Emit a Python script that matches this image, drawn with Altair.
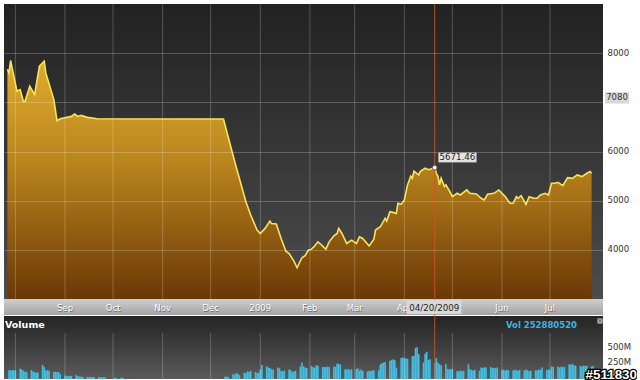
import altair as alt
import pandas as pd

# ---------------- data ----------------
price_dates = [
    "2008-07-27", "2008-07-28", "2008-07-29",
    "2008-08-02", "2008-08-04", "2008-08-06", "2008-08-07", "2008-08-10", "2008-08-13",
    "2008-08-16", "2008-08-19", "2008-08-20", "2008-08-25", "2008-08-27", "2008-08-29",
    "2008-09-05", "2008-09-07", "2008-09-09", "2008-09-11", "2008-09-15", "2008-09-21",
    "2008-12-09", "2008-12-16", "2008-12-23", "2008-12-26", "2008-12-30",
    "2009-01-01", "2009-01-04", "2009-01-07", "2009-01-08", "2009-01-11", "2009-01-14",
    "2009-01-17", "2009-01-19", "2009-01-22", "2009-01-24", "2009-01-27", "2009-01-29", "2009-01-31",
    "2009-02-02", "2009-02-04", "2009-02-06", "2009-02-08", "2009-02-10", "2009-02-11",
    "2009-02-13", "2009-02-16", "2009-02-18", "2009-02-19", "2009-02-21", "2009-02-24", "2009-02-27",
    "2009-03-02", "2009-03-04", "2009-03-06", "2009-03-10", "2009-03-13", "2009-03-14",
    "2009-03-17", "2009-03-20", "2009-03-21", "2009-03-23", "2009-03-25", "2009-03-27",
    "2009-03-28", "2009-03-30",
    "2009-04-01", "2009-04-03", "2009-04-05", "2009-04-06", "2009-04-07", "2009-04-10",
    "2009-04-11", "2009-04-14", "2009-04-16", "2009-04-20", "2009-04-21", "2009-04-22",
    "2009-04-23", "2009-04-24", "2009-04-26", "2009-04-27", "2009-04-30",
    "2009-05-01", "2009-05-04", "2009-05-06", "2009-05-10", "2009-05-12", "2009-05-16",
    "2009-05-19", "2009-05-21", "2009-05-23", "2009-05-27", "2009-05-30",
    "2009-06-01", "2009-06-03", "2009-06-06", "2009-06-08", "2009-06-10", "2009-06-11",
    "2009-06-13", "2009-06-16", "2009-06-18", "2009-06-21", "2009-06-23", "2009-06-25",
    "2009-06-28", "2009-06-30",
    "2009-07-02", "2009-07-04", "2009-07-06", "2009-07-09", "2009-07-12", "2009-07-15",
    "2009-07-18", "2009-07-21", "2009-07-24", "2009-07-26", "2009-07-27",
]
price_values = [
    7673, 7598, 7851,
    7224, 7259, 7020, 7020, 7327, 7157,
    7735, 7837, 7598, 7055, 6627, 6667,
    6714, 6761, 6714, 6735, 6694, 6667,
    6660, 5796, 4980, 4708, 4402,
    4333, 4436, 4585, 4537, 4524, 4231,
    3973, 3925, 3772, 3636, 3840, 3881, 3994,
    4014, 4078, 4163, 4109, 4041, 4014,
    4163, 4286, 4333, 4436, 4333, 4129, 4197,
    4129, 4265, 4231, 4078, 4218, 4402,
    4469, 4639, 4585, 4776, 4762, 4741,
    4946, 4925,
    5014, 5320, 5500, 5455, 5600, 5524,
    5596, 5660, 5631, 5671.46, 5557, 5495,
    5320, 5455, 5286, 5320, 5150,
    5082, 5150, 5116, 5218, 5150, 5136,
    5048, 5014, 5129, 5150, 5218,
    5150, 5082, 4946, 4946, 5082, 5048,
    5102, 4925, 5082, 5048, 5048, 5116,
    5150, 5116,
    5353, 5353, 5374, 5306, 5469, 5455,
    5524, 5490, 5557, 5592, 5557,
]

# daily volume (millions), trading days from the start dates
vol1_start = "2008-07-28"
vol1_values = [
    140, 138, 142, 135, 140,
    165, 150, 130, 115, 110, 140, 120, 110, 100, 105,
    224, 190, 135, 140, 130, 112, 115, 108, 110, 80,
    55, 48, 45, 50, 48, 60, 45, 40, 37, 35,
    33, 32, 30, 32, 30, 30, 28, 27, 28, 27, 0, 0,
    0, 21, 18, 20, 21,
]
vol2_start = "2008-12-10"
vol2_values = [
    35, 40, 30, 75, 70, 90, 85, 60, 100, 90, 120, 110, 128, 110, 100, 95,
    150, 224, 200, 181, 175, 155, 150, 181, 170, 128, 120, 135,
    150, 140, 110, 120, 130, 197, 261, 200, 181, 175,
    208, 185, 180, 219, 210, 190, 192, 185, 195, 190,
    200, 192, 245, 240, 230, 155, 150, 160, 140, 155,
    160, 165, 130, 150, 128, 120, 130, 125, 135, 140,
    140, 230, 250, 261, 270, 288, 300, 315, 300, 181, 335, 341,
    330, 325, 320, 360, 369, 495, 502, 395, 261, 400, 433, 300, 315,
    252.88, 331, 260, 235, 220, 240, 160, 150, 155,
    160, 128, 120, 135, 125, 130, 235, 160, 140, 135, 145,
    130, 181, 175, 185, 181, 190, 175, 180, 170, 181,
    139, 150, 130, 145, 140, 135, 150, 140, 130, 145,
    135, 150, 140, 125, 130, 140, 135, 150, 145, 181, 140, 150,
    145, 197, 190, 200, 180, 197, 185, 195,
    235, 225, 240, 220, 210, 208, 200, 215, 205, 210, 200, 205,
]

month_starts = ["2008-08-01", "2008-09-01", "2008-10-01", "2008-11-01", "2008-12-01",
                "2009-01-01", "2009-02-01", "2009-03-01", "2009-04-01", "2009-05-01",
                "2009-06-01", "2009-07-01"]
month_labels = ["", "Sep", "Oct", "Nov", "Dec", "2009", "Feb", "Mar", "Apr", "May",
                "Jun", "Jul"]
x_range = ["2008-07-28", "2009-07-31"]
price_range = [3000, 9000]
price_ticks = [4000, 5000, 6000, 7000, 8000]
vol_range = [0, 1000]
vol_ticks = [250, 500]

marker_date = "2009-04-20"
marker_price = 5671.46
marker_volume = 252880520
cursor_price = 7080
chart_id = "#511830"

# ---------------- frames ----------------
price_df = pd.DataFrame({"date": pd.to_datetime(price_dates), "price": price_values})
vol_df = pd.concat([
    pd.DataFrame({"date": pd.bdate_range(vol1_start, periods=len(vol1_values)), "vol": vol1_values}),
    pd.DataFrame({"date": pd.bdate_range(vol2_start, periods=len(vol2_values)), "vol": vol2_values}),
], ignore_index=True)
month_df = pd.DataFrame({"date": pd.to_datetime(month_starts), "label": month_labels})
mk = pd.Timestamp(marker_date)
ann_df = pd.DataFrame({
    "date": [mk], "price": [marker_price],
    "plabel": [f"{marker_price:.2f}"], "dlabel": [mk.strftime("%m/%d/%Y")],
})
cursor_df = pd.DataFrame({"price": [cursor_price], "label": [str(cursor_price)]})
vol_ann_df = pd.DataFrame({"title": ["Volume"], "vlabel": [f"Vol {marker_volume}"],
                           "cid": [chart_id], "close": ["\u00d7"]})
panel_df = pd.DataFrame({"panel": ["bg"]})


def dt(s):
    t = pd.Timestamp(s)
    return alt.DateTime(year=t.year, month=t.month, date=t.day)


x_scale = alt.Scale(domain=[dt(x_range[0]), dt(x_range[1])])
W, HP, HV = 599, 295, 63
BAND = 17
FONT = "DejaVu Sans"


def grad(stops):
    return alt.LinearGradient(
        gradient="linear", x1=0, x2=0, y1=0, y2=1,
        stops=[alt.GradientStop(color=c, offset=o) for o, c in stops])


def panel(y0, y1, stops):
    return alt.Chart(panel_df).mark_rect(color=grad(stops)).encode(
        x=alt.value(0), x2=alt.value(W), y=alt.value(y0), y2=alt.value(y1))


y_scale = alt.Scale(domain=price_range, nice=False, zero=False)
y_axis = alt.Axis(
    orient="right", values=price_ticks, format="d",
    labelExpr="datum.value == 7000 ? '' : datum.label",
    grid=True, gridColor="#ffffff", gridOpacity=0.22, domain=False, ticks=False,
    labelPadding=4, labelOffset=-1, labelColor="#333333", labelFont=FONT,
    labelFontSize=8.5, title=None, zindex=1)

X = alt.X("date:T", scale=x_scale, axis=None)
Y = alt.Y("price:Q", scale=y_scale, axis=y_axis)
YB = alt.datum(price_range[0])

base = alt.Chart(price_df)
area = base.mark_area(
    clip=True,
    color=grad([(0, "#deac2e"), (0.42, "#bb851e"), (1, "#6a3806")]),
).encode(x=X, y=Y, y2=YB)
months = alt.Chart(month_df)
vgrid = months.mark_rule(color="#ffffff", opacity=0.22, strokeWidth=1).encode(x=X)
line = base.mark_line(clip=True, color="#f8e45a", strokeWidth=1.6).encode(x=X, y=Y)

band = panel(HP, HP + BAND - 1, [(0, "#cfcfcf"), (1, "#a3a3a3")])
mlab_shadow = months.mark_text(font=FONT, fontSize=8.5, color="#6a6a6a", align="center",
                               baseline="middle", dx=0.6, dy=9.6).encode(
    x=X, y=YB, text="label:N")
mlab = months.mark_text(font=FONT, fontSize=8.5, color="#ffffff", align="center",
                        baseline="middle", dy=8.8).encode(x=X, y=YB, text="label:N")

ann = alt.Chart(ann_df)
red = ann.mark_rule(color="#d2562c", opacity=0.85, strokeWidth=1).encode(
    x=X, y=alt.value(0), y2=alt.value(HP + BAND))
cur_box = alt.Chart(cursor_df).mark_point(
    shape="M-1.2,-0.62L1.2,-0.62L1.2,0.52L-1.2,0.52Z", size=400, filled=True,
    fill="#d9d9d9", opacity=1
).encode(x=alt.value(W + 14), y=Y)
cur_txt = alt.Chart(cursor_df).mark_text(
    font=FONT, fontSize=8.5, color="#333333", align="center", baseline="middle", dy=-1
).encode(x=alt.value(W + 14), y=Y, text="label:N")
dot = ann.mark_point(shape="circle", filled=True, fill="#ffffff", stroke="#444444",
                     strokeWidth=0.8, size=22, opacity=1).encode(x=X, y=Y)
tip_box = ann.mark_point(
    shape="M0.37,-1.5L4.17,-1.5L4.17,-0.53L0.37,-0.53Z", size=400, filled=True,
    fill="#e4e4e4", stroke="#9a9a9a", strokeWidth=0.5, opacity=1
).encode(x=X, y=Y)
tip_txt = ann.mark_text(font=FONT, fontSize=8.7, color="#222222", align="center",
                        baseline="middle", dx=22.7, dy=-10.2).encode(x=X, y=Y, text="plabel:N")
date_box = ann.mark_point(
    shape="M-2.83,0.1L2.67,0.1L2.67,1.5L-2.83,1.5Z", size=400, filled=True,
    fill="#d8d8d8", opacity=1
).encode(x=X, y=YB)
date_txt = ann.mark_text(font=FONT, fontSize=8.7, color="#222222", align="center",
                         baseline="middle", dx=-0.5, dy=8.5).encode(
    x=X, y=YB, text="dlabel:N")

price_chart = alt.layer(
    panel(0, HP, [(0, "#222222"), (1, "#4c4c4c")]), area, vgrid, line,
    band, mlab_shadow, mlab, red, cur_box, cur_txt, dot, tip_box, tip_txt,
    date_box, date_txt
).properties(width=W, height=HP)

# ---------------- volume panel ----------------
vol_y = alt.Axis(
    orient="right", values=vol_ticks, labelExpr="datum.value + 'M'",
    grid=True, gridColor="#ffffff", gridOpacity=0.2, domain=False, ticks=False,
    labelPadding=4, labelOffset=-1.5, labelColor="#333333", labelFont=FONT,
    labelFontSize=8.5, title=None, zindex=0)

bars = alt.Chart(vol_df).mark_bar(color="#44bee0", size=1.6).encode(
    x=X, y=alt.Y("vol:Q", scale=alt.Scale(domain=vol_range, nice=False), axis=vol_y))
vgrid2 = months.mark_rule(color="#ffffff", opacity=0.22, strokeWidth=1).encode(
    x=X, y=alt.value(17), y2=alt.value(HV))
red2 = ann.mark_rule(color="#d2562c", opacity=0.85, strokeWidth=1).encode(x=X)
va = alt.Chart(vol_ann_df)
vol_title = va.mark_text(font=FONT, fontSize=9.5, fontWeight="bold", color="#ffffff",
                         align="left", baseline="middle").encode(
    x=alt.value(1), y=alt.value(9), text="title:N")
vol_label = va.mark_text(font=FONT, fontSize=8.5, fontWeight="bold", color="#3cb6e2",
                         align="right", baseline="middle").encode(
    x=alt.value(573), y=alt.value(9), text="vlabel:N")
close_box = va.mark_point(shape="square", size=26, filled=True, fill="#c4c4c4",
                          stroke="#777777", strokeWidth=0.5, opacity=1).encode(
    x=alt.value(596), y=alt.value(5))
close_x = va.mark_text(font=FONT, fontSize=7, color="#333333", align="center",
                       baseline="middle").encode(
    x=alt.value(596), y=alt.value(5), text="close:N")
id_shadow = va.mark_text(font="Liberation Sans", fontSize=13.4, fontWeight="bold",
                         color="#000000", stroke="#000000", strokeWidth=2.6,
                         align="right", baseline="alphabetic").encode(
    x=alt.value(633), y=alt.value(HV - 0.5), text="cid:N")
id_text = va.mark_text(font="Liberation Sans", fontSize=13.4, fontWeight="bold",
                       color="#ffffff", align="right", baseline="alphabetic").encode(
    x=alt.value(633), y=alt.value(HV - 0.5), text="cid:N")

vol_chart = alt.layer(
    panel(0, HV, [(0, "#242424"), (1, "#5a5a5a")]), bars, vgrid2, red2, vol_title,
    vol_label, close_box, close_x, id_shadow, id_text
).properties(width=W, height=HV)

chart = alt.vconcat(price_chart, vol_chart, spacing=BAND, bounds="flush").resolve_scale(
    x="shared", y="independent"
).configure_view(stroke=None).properties(
    padding={"left": 4, "top": 3, "right": 0, "bottom": 0},
    background="#ffffff",
)

chart.save("out.html", embed_options={"renderer": "svg", "actions": False})
